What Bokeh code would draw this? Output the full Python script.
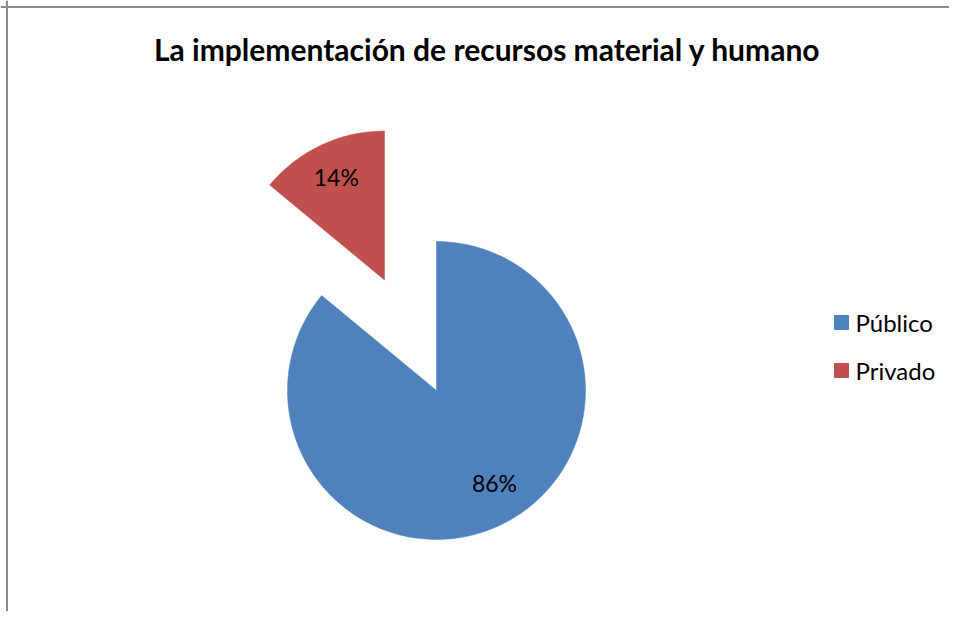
import math
from bokeh.plotting import figure
from bokeh.models import Range1d, Span
from bokeh.core.properties import value
from bokeh.embed import file_html
from bokeh.resources import INLINE

# ---- data ----
categories = ["Público", "Privado"]
values = [86, 14]
labels = ["86%", "14%"]
colors = ["#4F81BD", "#C0504D"]
title = "La implementación de recursos material y humano"

# ---- style / layout ----
explode = [0.0, 0.82]          # fraction of radius
label_frac = [0.73, 0.76]      # label distance, fraction of radius
label_turn = [7.0, 0.0]        # degrees of turn off the bisector

W, H = 949, 611
def sy(y):             # screen y -> data y
    return H - y

p = figure(width=W, height=H, output_backend="svg", toolbar_location=None,
           x_range=Range1d(0, W), y_range=Range1d(0, H),
           min_border=0, outline_line_color=None, tools="")
p.axis.visible = False
p.grid.visible = False
p.background_fill_color = "white"

cx, cy, r = 436, sy(390), 149
total = float(sum(values))
cum = 0.0
font = value("Lato")
for i, v in enumerate(values):
    frac0 = cum / total
    cum += v
    frac1 = cum / total
    start = math.radians(90 - 360 * frac1)
    end = math.radians(90 - 360 * frac0)
    mid = (start + end) / 2
    ox = cx + explode[i] * r * math.cos(mid)
    oy = cy + explode[i] * r * math.sin(mid)
    p.wedge(x=ox, y=oy, radius=r, start_angle=start, end_angle=end,
            direction="anticlock", fill_color=colors[i], line_color=colors[i],
            line_width=0.5)
    la = mid + math.radians(label_turn[i])
    lx = ox + label_frac[i] * r * math.cos(la)
    ly = oy + label_frac[i] * r * math.sin(la)
    p.text(x=[lx], y=[ly], text=[labels[i]], text_font=font,
           text_font_size="23px", text_align="center", text_baseline="middle",
           text_color="black")

# title
p.text(x=[487], y=[sy(48)], text=[title], text_font=font, text_font_style="bold",
       text_font_size="30px", text_align="center", text_baseline="middle",
       text_color="black")

# legend
for i, c in enumerate(categories):
    ly = sy(322 + 48 * i)
    p.scatter(x=[841], y=[ly], marker="square", size=14, fill_color=colors[i],
              line_color=colors[i])
    p.text(x=[855], y=[ly], text=[c], text_font=font, text_font_size="24px",
           text_align="left", text_baseline="middle", text_color="black")

# frame (left and top edges visible)
p.add_layout(Span(location=6.5, dimension="height", line_color="#8c8c8c", line_width=2))
p.add_layout(Span(location=sy(6.5), dimension="width", line_color="#8c8c8c", line_width=2))

open("out.html", "w").write(file_html(p, INLINE))
